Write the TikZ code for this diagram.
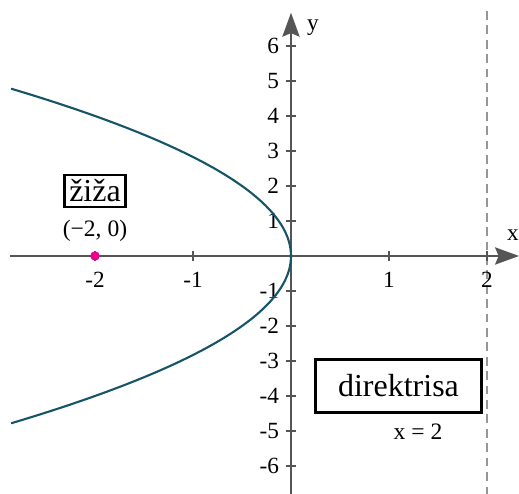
\documentclass[tikz,border=0pt]{standalone}
\usepackage{fontspec}
\setmainfont{Liberation Serif}
\usetikzlibrary{arrows.meta}
\definecolor{axisgray}{RGB}{85,85,85}
\definecolor{curveteal}{RGB}{22,84,104}
\definecolor{dirgray}{RGB}{150,150,150}
\tikzset{
  axisline/.style={draw=axisgray, line width=0.55pt, -{Stealth[length=6.8pt,width=4.9pt,inset=1pt]}},
  tickmark/.style={draw=axisgray, line width=0.4pt},
  ticklabel/.style={font=\fontsize{6.6pt}{7pt}\selectfont, inner sep=0pt},
  smalllabel/.style={font=\fontsize{6.7pt}{7pt}\selectfont, inner sep=0pt},
  boxlabel/.style={draw=black, line width=0.7pt, font=\fontsize{9.1pt}{10pt}\selectfont},
}
\begin{document}
\begin{tikzpicture}[x=0.98cm, y=0.35cm]
\useasboundingbox (-2.9694,-6.8) rectangle (2.3265,7.3143);
% directrix
\coordinate (dtop) at (2,7.0);
\coordinate (dbot) at (2,-6.8);
\draw[dirgray, line width=0.75pt, dash pattern=on 2.5pt off 1.6pt] (dtop) -- (dbot);
% axes
\coordinate (xl) at (-2.867,0);
\coordinate (xr) at (2.3265,0);
\coordinate (yb) at (0,-6.8);
\coordinate (yt) at (0,6.95);
\draw[axisline] (xl) -- (xr);
\draw[axisline] (yb) -- (yt);
\node[ticklabel] (xlab) at (2.265,0.6) {x};
\node[ticklabel] (ylab) at (0.225,6.52) {y};
% x ticks
\foreach \v/\s in {-2/-2,-1/-1,1/1,2/2} {
  \draw[tickmark] (\v,-0.14) -- (\v,0.14);
  \node[ticklabel] (xt\v) at (\v,-0.68) {\s};
}
% y ticks
\foreach \v/\s in {-6/-6,-5/-5,-4/-4,-3/-3,-2/-2,-1/-1,1/1,2/2,3/3,4/4,5/5,6/6} {
  \draw[tickmark] (-0.05,\v) -- (0.05,\v);
  \node[ticklabel, anchor=east] (yt\v) at (-0.115,\v) {\s};
}
% parabola y^2 = -8x
\draw[curveteal, line width=0.6pt, smooth, samples=121, domain=-4.78:4.78, variable=\t]
  plot ({-\t*\t/8},{\t});
% focus
\node[circle, fill=magenta, inner sep=0pt, minimum size=2.7pt] (focus) at (-2,0) {};
\node[smalllabel] (focuslab) at (-2,0.72) {(−2, 0)};
\node[boxlabel, inner sep=1.3pt] (ziza) at (-2,1.86) {žiža};
% directrix label
\node[boxlabel, minimum width=1.66cm, minimum height=0.53cm] (dirbox) at (1.097,-3.71) {direktrisa};
\node[smalllabel] (dirlab) at (1.296,-5.03) {x = 2};
\end{tikzpicture}
\end{document}
